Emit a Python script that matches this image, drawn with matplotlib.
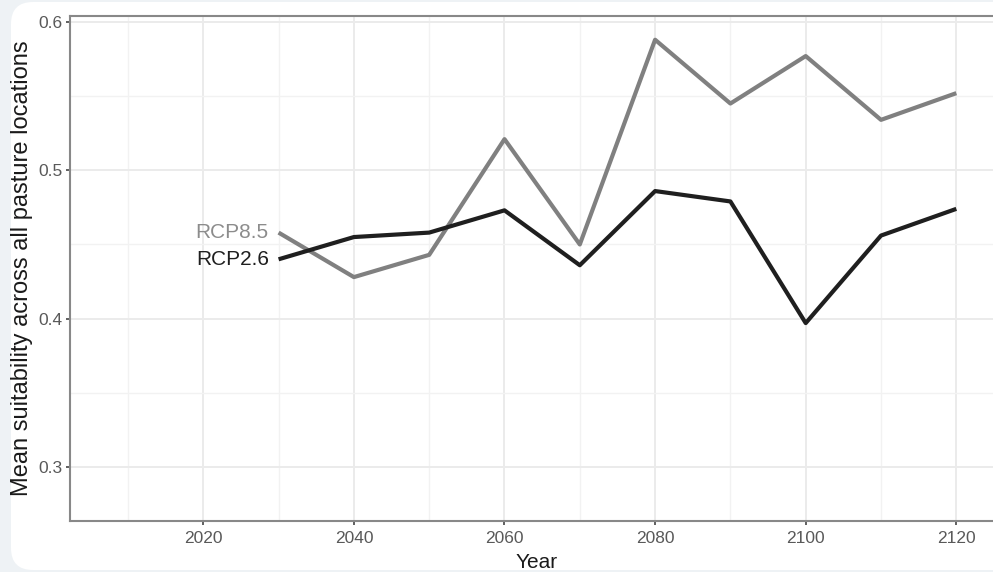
import matplotlib
matplotlib.use("Agg")
import matplotlib.pyplot as plt
from matplotlib.patches import FancyBboxPatch
from matplotlib.transforms import IdentityTransform

plt.rcParams['font.family'] = ['Liberation Sans', 'DejaVu Sans']

years = [2030, 2040, 2050, 2060, 2070, 2080, 2090, 2100, 2110, 2120]
rcp85 = [0.458, 0.428, 0.443, 0.521, 0.450, 0.588, 0.545, 0.577, 0.534, 0.552]
rcp26 = [0.440, 0.455, 0.458, 0.473, 0.436, 0.486, 0.479, 0.397, 0.456, 0.474]
xticks = [2020, 2040, 2060, 2080, 2100, 2120]
yticks = [0.3, 0.4, 0.5, 0.6]

W, H = 993, 572
fig = plt.figure(figsize=(W / 100, H / 100), dpi=100)
fig.patch.set_facecolor('#eef2f5')

# white rounded card behind the plot
card = FancyBboxPatch((11, 2), 1100, 568, boxstyle="round,pad=0,rounding_size=22",
                      transform=IdentityTransform(), facecolor='white',
                      edgecolor='none', zorder=-10)
fig.patches.append(card)

ax = fig.add_axes([70 / W, 51 / H, 933 / W, 505 / H])
ax.set_facecolor('white')
ax.set_xlim(2002.3, 2126.2)
ax.set_ylim(0.2636, 0.604)

ax.set_xticks(xticks)
ax.set_xticks([2010, 2030, 2050, 2070, 2090, 2110], minor=True)
ax.set_yticks(yticks)
ax.set_yticklabels([str(v) for v in yticks])
ax.set_yticks([0.35, 0.45, 0.55], minor=True)
ax.grid(True, which='major', color='#ebebeb', lw=1.4)
ax.grid(True, which='minor', color='#f2f2f2', lw=1.0)
ax.set_axisbelow(True)
ax.tick_params(which='minor', length=0)
ax.tick_params(which='major', length=3, width=1.2, color='#444444',
               labelcolor='#595959', labelsize=12.5, pad=2.5)
ax.tick_params(axis='x', pad=4)

for side in ['top', 'left', 'bottom']:
    ax.spines[side].set_color('#888888')
    ax.spines[side].set_linewidth(1.5)
ax.spines['right'].set_visible(False)

ax.plot(years, rcp85, color='#808080', lw=3, solid_capstyle='butt', zorder=3)
ax.plot(years, rcp26, color='#1f1f1f', lw=3, solid_capstyle='butt', zorder=4)

ax.annotate('RCP8.5', (years[0], rcp85[0]), xytext=(-7, 0), textcoords='offset points',
            ha='right', va='center', fontsize=15, color='#8c8c8c')
ax.annotate('RCP2.6', (years[0], rcp26[0]), xytext=(-7, 0), textcoords='offset points',
            ha='right', va='center', fontsize=15, color='#1f1f1f')

ax.set_xlabel('Year', fontsize=15, color='#1a1a1a', labelpad=5)
ax.set_ylabel('Mean suitability across all pasture locations', fontsize=17,
              color='#1a1a1a', labelpad=4)

fig.savefig('out.png', dpi=100, facecolor=fig.get_facecolor())
